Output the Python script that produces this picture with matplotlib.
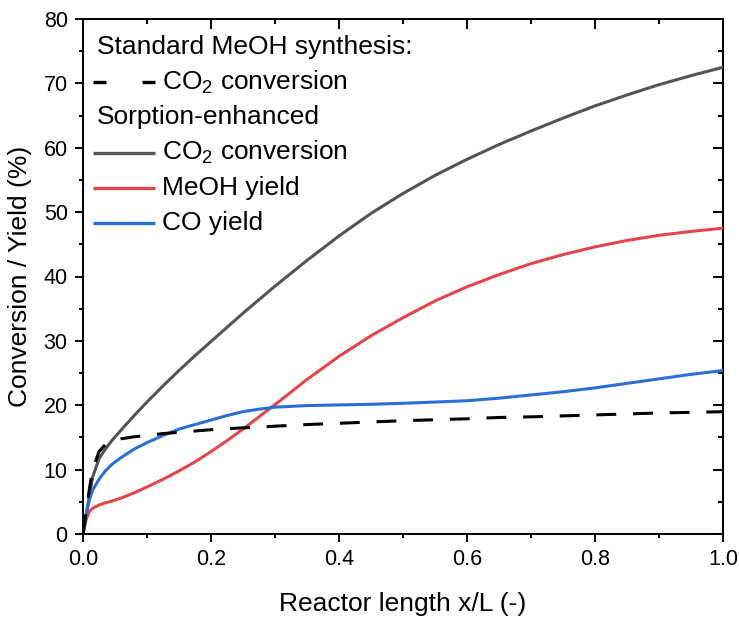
import matplotlib
matplotlib.use("Agg")
import matplotlib.pyplot as plt
from matplotlib.ticker import MultipleLocator

plt.rcParams['font.family'] = ['Liberation Sans', 'DejaVu Sans']
plt.rcParams['mathtext.default'] = 'regular'

x = [0, 0.005, 0.01, 0.015, 0.025, 0.035, 0.045, 0.06, 0.08, 0.1, 0.125, 0.15, 0.175,
     0.2, 0.225, 0.25, 0.275, 0.3, 0.35, 0.4, 0.45, 0.5, 0.55, 0.6, 0.65, 0.7, 0.75,
     0.8, 0.85, 0.9, 0.95, 1.0]

std_co2_conv = [0, 3.5, 7.0, 10.0, 12.8, 13.9, 14.4, 14.8, 15.1, 15.3, 15.6, 15.8, 16.0,
                16.2, 16.35, 16.5, 16.6, 16.75, 17.0, 17.2, 17.4, 17.6, 17.75, 17.9, 18.1,
                18.2, 18.35, 18.5, 18.65, 18.8, 18.9, 19.0]
se_co2_conv = [0, 3.0, 6.0, 8.8, 11.7, 13.2, 14.5, 16.2, 18.4, 20.5, 23.0, 25.4, 27.7,
               29.9, 32.1, 34.3, 36.4, 38.5, 42.5, 46.3, 49.8, 52.9, 55.7, 58.2, 60.5,
               62.6, 64.6, 66.5, 68.2, 69.8, 71.2, 72.5]
se_meoh_yield = [0, 2.3, 3.5, 4.0, 4.5, 4.85, 5.1, 5.6, 6.4, 7.3, 8.5, 9.8, 11.2,
                 12.8, 14.5, 16.3, 18.2, 20.1, 24.0, 27.6, 30.8, 33.6, 36.2, 38.4, 40.3,
                 42.0, 43.4, 44.6, 45.6, 46.4, 47.0, 47.5]
se_co_yield = [0, 3.2, 5.3, 6.8, 8.5, 9.8, 10.8, 11.9, 13.2, 14.2, 15.3, 16.3, 17.0,
               17.7, 18.4, 19.0, 19.4, 19.7, 19.95, 20.05, 20.15, 20.3, 20.5, 20.7, 21.1,
               21.6, 22.1, 22.7, 23.4, 24.1, 24.8, 25.4]

c_gray = '#545454'
c_red = '#e5454a'
c_blue = '#2a6fd6'

fig = plt.figure(figsize=(7.39, 6.17), dpi=100)
ax = fig.add_axes([83/739, (617-534)/617, 640/739, 515/617])

lw = 2.2
ax.plot(x, se_co2_conv, color=c_gray, lw=lw, zorder=3)
ax.plot(x, se_meoh_yield, color=c_red, lw=lw, zorder=3)
ax.plot(x, se_co_yield, color=c_blue, lw=lw, zorder=3)
ax.plot(x, std_co2_conv, color='black', lw=lw, linestyle=(0, (6.5, 5.5)), zorder=4)

ax.set_xlim(0, 1.0)
ax.set_ylim(0, 80)
ax.xaxis.set_major_locator(MultipleLocator(0.2))
ax.xaxis.set_minor_locator(MultipleLocator(0.1))
ax.yaxis.set_major_locator(MultipleLocator(10))
ax.yaxis.set_minor_locator(MultipleLocator(5))
ax.xaxis.set_major_formatter(matplotlib.ticker.FormatStrFormatter('%.1f'))

for sp in ax.spines.values():
    sp.set_linewidth(1.4)

ax.tick_params(which='major', direction='out', length=6, width=1.4, labelsize=15.5, pad=5)
ax.tick_params(which='minor', direction='out', length=3, width=1.4)

# mirrored ticks on top and right pointing inward
secx = ax.secondary_xaxis('top')
secx.xaxis.set_major_locator(MultipleLocator(0.2))
secx.xaxis.set_minor_locator(MultipleLocator(0.1))
secx.tick_params(which='major', direction='in', length=7, width=1.4, labeltop=False)
secx.tick_params(which='minor', direction='in', length=3.5, width=1.4)
secy = ax.secondary_yaxis('right')
secy.yaxis.set_major_locator(MultipleLocator(10))
secy.yaxis.set_minor_locator(MultipleLocator(5))
secy.tick_params(which='major', direction='in', length=7, width=1.4, labelright=False)
secy.tick_params(which='minor', direction='in', length=3.5, width=1.4)
for s in (secx, secy):
    for sp in s.spines.values():
        sp.set_linewidth(1.4)

ax.set_xlabel('Reactor length x/L (-)', fontsize=19, labelpad=15.5)
ax.set_ylabel('Conversion / Yield (%)', fontsize=19, labelpad=8)

# custom legend
legend_rows = [
    ('Standard MeOH synthesis:', None, None),
    ('CO$_2$ conversion', 'black', (0, (3.9, 10.8))),
    ('Sorption-enhanced', None, None),
    ('CO$_2$ conversion', c_gray, '-'),
    ('MeOH yield', c_red, '-'),
    ('CO yield', c_blue, '-'),
]
y0 = (534 - 47) / 515
dy = 35.2 / 515
for i, (label, col, ls) in enumerate(legend_rows):
    yy = y0 - i * dy
    if col is None:
        ax.text(0.022, yy, label, transform=ax.transAxes, fontsize=19,
                va='center', ha='left')
    else:
        ax.plot([0.016, 0.1125], [yy, yy], transform=ax.transAxes, color=col,
                lw=2.4, linestyle=ls, clip_on=False, solid_capstyle='butt',
                dash_capstyle='butt')
        ax.text(0.123, yy, label, transform=ax.transAxes, fontsize=19,
                va='center', ha='left')

fig.savefig('out.png', dpi=100)
